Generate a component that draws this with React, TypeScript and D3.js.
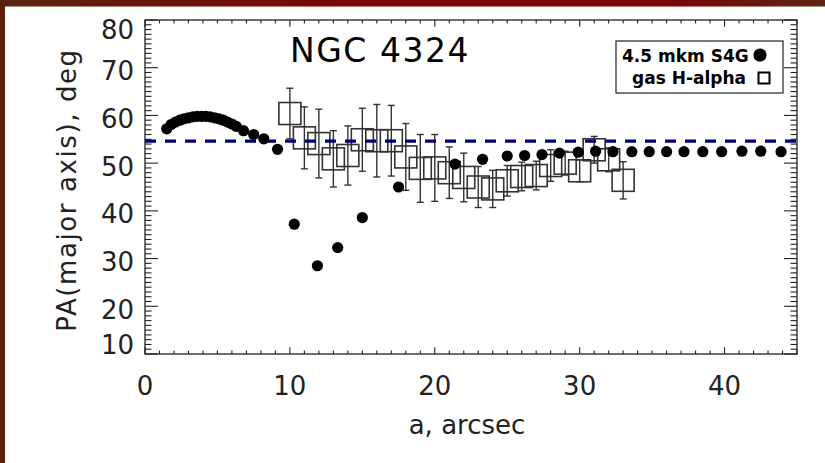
import React from "react";
import * as d3 from "d3";

const W = 825;
const H = 463;

// S4G 4.5 micron (filled circles)
const s4gX = [1.5, 1.8, 2.1, 2.4, 2.7, 3.0, 3.3, 3.6, 3.9, 4.2, 4.5, 4.8, 5.1, 5.4, 5.7, 6.0, 6.3, 6.8, 7.5, 8.2, 9.15, 10.3, 11.9, 13.3, 15.0, 17.5, 21.4, 23.3, 25.0, 26.2, 27.4, 28.6, 29.9, 31.1, 32.3, 33.6, 34.8, 36.0, 37.2, 38.5, 39.8, 41.2, 42.5, 43.9];
const s4gY = [57.2, 58.1, 58.6, 59.0, 59.3, 59.5, 59.7, 59.8, 59.8, 59.8, 59.7, 59.5, 59.3, 59.0, 58.6, 58.2, 57.7, 56.8, 56.0, 55.1, 52.9, 37.2, 28.5, 32.3, 38.6, 45.0, 49.8, 50.8, 51.5, 51.6, 51.8, 52.1, 52.3, 52.5, 52.4, 52.4, 52.4, 52.4, 52.4, 52.4, 52.4, 52.5, 52.5, 52.4];

// gas H-alpha (open squares with error bars)
const haX = [10, 11, 12, 13, 14, 15, 16, 17, 18, 19, 20, 21, 22, 23, 24, 25, 26, 27, 28, 29, 30, 31, 32, 33];
const haY = [60.4, 55.3, 54.1, 50.9, 51.6, 54.9, 54.7, 54.7, 51.3, 48.9, 49.0, 48.0, 47.0, 45.0, 44.6, 46.3, 47.2, 47.4, 49.5, 50.0, 48.4, 52.8, 50.7, 46.4];
const haErr = [5.3, 6.5, 7.2, 5.9, 6.2, 6.6, 7.6, 7.4, 7.0, 7.1, 7.0, 5.4, 5.1, 4.3, 3.9, 3.2, 3.0, 3.0, 3.3, 2.5, 2.3, 2.8, 2.5, 3.9];

const refPA = 54.6;
const xTicks = [0, 10, 20, 30, 40];
const yTicks = [10, 20, 30, 40, 50, 60, 70, 80];
const title = "NGC 4324";
const legend1 = "4.5 mkm S4G";
const legend2 = "gas H-alpha";
const xTitle = "a, arcsec";
const yTitle = "PA(major axis), deg";

const FONT = "'DejaVu Sans', Verdana, sans-serif";
const INK = "#222";

export default function App() {
  const left = 145, right = 797, top = 20, bottom = 354;
  const x = d3.scaleLinear().domain([0, 45]).range([left, right]);
  const y = d3.scaleLinear().domain([10, 80]).range([bottom, top]);

  const xMinor = d3.range(0, 46, 1);
  const yMinor = d3.range(10, 81, 1);
  const xMajLen = 6.7, xMinLen = 3.4, yMajLen = 13, yMinLen = 6.5;
  const sq = 22;
  const cap = 3.5;

  const labelY = (v: number) => Math.max(top + 10, Math.min(bottom - 9, y(v) + 3));

  return (
    <svg width={W} height={H} style={{ position: "absolute", left: 0, top: 0, background: "#fff" }} fontFamily={FONT}>
      <defs>
        <linearGradient id="topband" x1="0" x2="1" y1="0" y2="0">
          <stop offset="0%" stopColor="#5b220c" />
          <stop offset="45%" stopColor="#7c0404" />
          <stop offset="80%" stopColor="#7a0505" />
          <stop offset="100%" stopColor="#5e2410" />
        </linearGradient>
      </defs>
      <rect x={0} y={0} width={W} height={H} fill="#fff" />
      <rect x={0} y={0} width={W} height={6.5} fill="url(#topband)" />
      <rect x={0} y={0} width={5} height={H} fill="#5b200a" />

      {/* frame */}
      <rect x={left} y={top} width={right - left} height={bottom - top} fill="none" stroke={INK} strokeWidth={1.3} />

      {/* x ticks (bottom & top) */}
      {xMinor.map((v) => {
        const L = v % 10 === 0 ? xMajLen : xMinLen;
        return (
          <g key={"xt" + v} stroke={INK} strokeWidth={1.1}>
            <line x1={x(v)} x2={x(v)} y1={bottom} y2={bottom - L} />
            <line x1={x(v)} x2={x(v)} y1={top} y2={top + L} />
          </g>
        );
      })}
      {/* y ticks (left & right) */}
      {yMinor.map((v) => {
        const L = v % 10 === 0 ? yMajLen : yMinLen;
        return (
          <g key={"yt" + v} stroke={INK} strokeWidth={1.1}>
            <line x1={left} x2={left + L} y1={y(v)} y2={y(v)} />
            <line x1={right} x2={right - L} y1={y(v)} y2={y(v)} />
          </g>
        );
      })}

      {/* tick labels */}
      {xTicks.map((v) => (
        <text key={"xl" + v} x={x(v)} y={395} textAnchor="middle" fontSize={26} fill={INK}>
          {v}
        </text>
      ))}
      {yTicks.map((v) => (
        <text key={"yl" + v} x={134} y={labelY(v)} dy="0.36em" textAnchor="end" fontSize={26} fill={INK}>
          {v}
        </text>
      ))}

      {/* axis titles */}
      <text x={467} y={434} textAnchor="middle" fontSize={26} fill={INK}>
        {xTitle}
      </text>
      <text transform={`translate(76,190) rotate(-90)`} textAnchor="middle" fontSize={26} letterSpacing={1.6} fill={INK}>
        {yTitle}
      </text>

      {/* H-alpha error bars and squares */}
      {haX.map((v, i) => {
        const cx = x(v);
        const y1 = y(haY[i] + haErr[i]);
        const y2 = y(haY[i] - haErr[i]);
        return (
          <g key={"ha" + i} stroke="#333" fill="none">
            <line x1={cx} x2={cx} y1={y1} y2={y2} strokeWidth={1.4} />
            <line x1={cx - cap} x2={cx + cap} y1={y1} y2={y1} strokeWidth={1.4} />
            <line x1={cx - cap} x2={cx + cap} y1={y2} y2={y2} strokeWidth={1.4} />
            <rect x={cx - sq / 2} y={y(haY[i]) - sq / 2} width={sq} height={sq} strokeWidth={1.6} />
          </g>
        );
      })}

      {/* reference PA dashed line */}
      <line x1={left} x2={right} y1={y(refPA)} y2={y(refPA)} stroke="#00007a" strokeWidth={3.2} strokeDasharray="11 9" />

      {/* S4G circles */}
      {s4gX.map((v, i) => (
        <circle key={"s" + i} cx={x(v)} cy={y(s4gY[i])} r={5.6} fill="#000" />
      ))}

      {/* title */}
      <text x={380} y={62} textAnchor="middle" fontSize={33} letterSpacing={1.5} fill="#000">
        {title}
      </text>

      {/* legend */}
      <rect x={616} y={41} width={167} height={52} fill="#fff" stroke="#333" strokeWidth={1.3} />
      <text x={622} y={62} fontSize={17} fontWeight="bold" fill="#000">
        {legend1}
      </text>
      <circle cx={760} cy={55} r={6.6} fill="#000" />
      <text x={632} y={84} fontSize={17} fontWeight="bold" fill="#000">
        {legend2}
      </text>
      <rect x={758.5} y={72.5} width={11} height={11} fill="none" stroke="#000" strokeWidth={2} />
    </svg>
  );
}
